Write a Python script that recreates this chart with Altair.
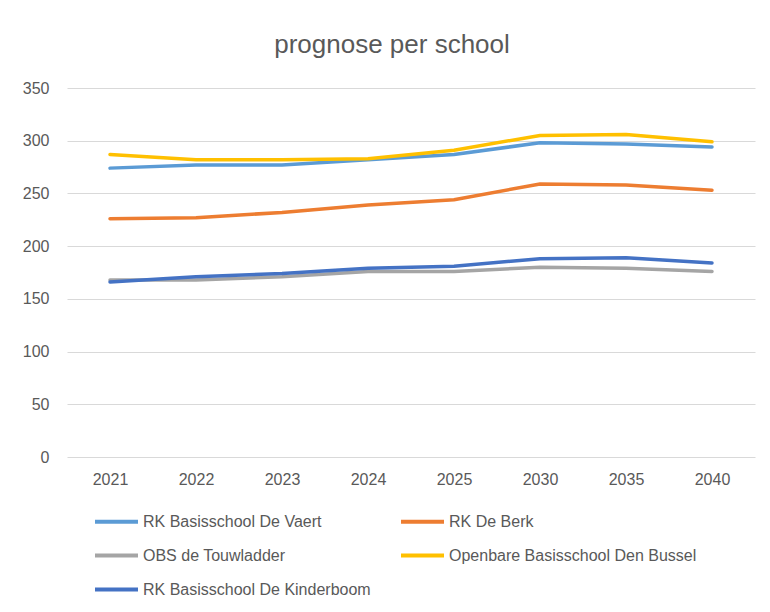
import altair as alt
import pandas as pd

years = ["2021", "2022", "2023", "2024", "2025", "2030", "2035", "2040"]
schools = [
    "RK Basisschool De Vaert",
    "RK De Berk",
    "OBS de Touwladder",
    "Openbare Basisschool Den Bussel",
    "RK Basisschool De Kinderboom",
]
vaert = [274, 277, 277, 282, 287, 298, 297, 294]
berk = [226, 227, 232, 239, 244, 259, 258, 253]
touwladder = [168, 168, 171, 176, 176, 180, 179, 176]
bussel = [287, 282, 282, 283, 291, 305, 306, 299]
kinderboom = [166, 171, 174, 179, 181, 188, 189, 184]
colors = ["#5B9BD5", "#ED7D31", "#A5A5A5", "#FFC000", "#4472C4"]

series = [vaert, berk, touwladder, bussel, kinderboom]
rows = []
for i, (name, vals) in enumerate(zip(schools, series)):
    for y, v in zip(years, vals):
        rows.append({"jaar": y, "school": name, "aantal": v, "idx": i})
df = pd.DataFrame(rows)

# legend is filled column by column: reorder so it reads row by row
legend_order = [schools[0], schools[2], schools[4], schools[1], schools[3]]
legend_colors = [colors[0], colors[2], colors[4], colors[1], colors[3]]

FONT = "Liberation Sans"
TXT = "#595959"

chart = alt.Chart(df).mark_line(strokeWidth=3.5, strokeCap="round", strokeJoin="round").encode(
    x=alt.X("jaar:O", sort=years, title=None,
            scale=alt.Scale(type="point", padding=0.5),
            axis=alt.Axis(labelAngle=0, ticks=False, domain=False, grid=False,
                          labelPadding=14, labelFontSize=16, labelColor=TXT, labelFont=FONT)),
    y=alt.Y("aantal:Q", title=None,
            scale=alt.Scale(domain=[0, 350], nice=False),
            axis=alt.Axis(values=[0, 50, 100, 150, 200, 250, 300, 350], ticks=False, domain=False,
                          gridColor="#D9D9D9", gridWidth=1, labelPadding=18,
                          labelFontSize=16, labelColor=TXT, labelFont=FONT)),
    color=alt.Color("school:N", sort=legend_order,
                    scale=alt.Scale(domain=legend_order, range=legend_colors),
                    legend=alt.Legend(title=None, orient="none", legendX=26, legendY=410,
                                      columns=2, symbolType="stroke", symbolSize=1849,
                                      symbolStrokeWidth=4, labelFontSize=16, labelColor=TXT,
                                      labelFont=FONT, labelOffset=3, rowPadding=2,
                                      columnPadding=22, labelLimit=400)),
    order=alt.Order("idx:Q"),
).properties(
    width=688,
    height=369,
    padding={"left": 59, "top": 80, "right": 7, "bottom": 147},
    autosize=alt.AutoSizeParams(type="none"),
    title=alt.TitleParams("prognose per school", fontSize=26, font=FONT, fontWeight="normal",
                          color=TXT, anchor="middle", dx=-19, offset=22),
).configure_view(stroke=None)

chart.save("out.html", embed_options={"renderer": "svg", "actions": False})
